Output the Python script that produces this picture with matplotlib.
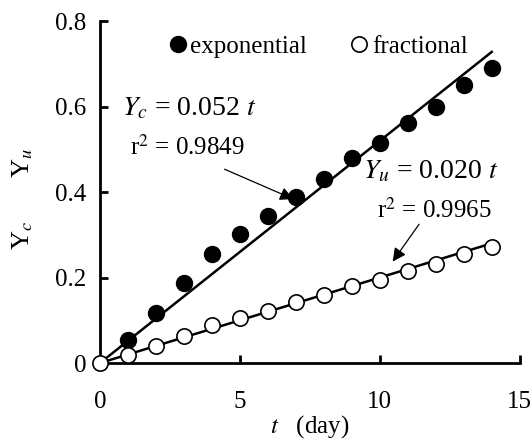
import matplotlib
matplotlib.use('Agg')
import matplotlib.pyplot as plt
import numpy as np

plt.rcParams['font.family'] = ['Liberation Serif', 'DejaVu Serif']
plt.rcParams['mathtext.fontset'] = 'stix'

# data
t_days = np.arange(0, 15)
y_exp = [0.0, 0.054, 0.117, 0.187, 0.255, 0.302, 0.344, 0.388, 0.43, 0.48,
         0.515, 0.561, 0.599, 0.65, 0.69]
y_frac = [0.0, 0.018, 0.040, 0.063, 0.088, 0.105, 0.122, 0.142, 0.160, 0.180,
          0.195, 0.215, 0.232, 0.255, 0.271]
slope_c = 0.052
slope_u = 0.020

fig = plt.figure(figsize=(5.32, 4.40), dpi=100)
ax = fig.add_axes([0.188, 0.175, 0.789, 0.777])

# fitted lines through origin
tfit = np.array([0, 14])
ax.plot(tfit, slope_c * tfit, color='black', lw=1.8, zorder=2)
ax.plot(tfit, slope_u * tfit, color='black', lw=1.8, zorder=2)

ax.plot(t_days[1:], y_exp[1:], 'o', color='black', ms=11.5, zorder=3,
        label='exponential', clip_on=False)
ax.plot(t_days, y_frac, 'o', mfc='white', mec='black', mew=1.2, ms=11,
        zorder=3, label='fractional', clip_on=False)

ax.set_xlim(0, 15)
ax.set_ylim(0, 0.8)
ax.set_xticks([0, 5, 10, 15])
ax.set_yticks([0, 0.2, 0.4, 0.6, 0.8])
ax.set_yticklabels(['0', '0.2', '0.4', '0.6', '0.8'])
for s in ['top', 'right']:
    ax.spines[s].set_visible(False)
for s in ['left', 'bottom']:
    ax.spines[s].set_linewidth(2)
ax.tick_params(direction='in', length=6, width=2, labelsize=18, pad=10)
ax.tick_params(axis='x', pad=20)

ax.set_xlabel(r'$t$   (day)', fontsize=18, labelpad=0)
# y label: two separate rotated symbols
fig.text(0.042, 0.466, r'Y$_c$', rotation=90, fontsize=19,
         ha='center', va='center')
fig.text(0.042, 0.630, r'Y$_u$', rotation=90, fontsize=19,
         ha='center', va='center')

leg = ax.legend(loc='center left', bbox_to_anchor=(0.155, 0.925), ncol=2,
                frameon=False, fontsize=18, handletextpad=0.0,
                columnspacing=1.6, markerscale=1.0, handlelength=1.0,
                borderpad=0, borderaxespad=0)

# equation annotations
ax.text(0.8, 0.596, r'$Y_c$ = 0.052 $t$', fontsize=20, va='center')
ax.text(1.07, 0.505, r'r$^2$ = 0.9849', fontsize=18, va='center')
ax.annotate('', xy=(7.0, 0.381), xytext=(4.36, 0.456),
            arrowprops=dict(arrowstyle='-|>', color='black', lw=0.9,
                            mutation_scale=20))
ax.text(9.4, 0.447, r'$Y_u$ = 0.020 $t$', fontsize=20, va='center')
ax.text(9.9, 0.358, r'r$^2$ = 0.9965', fontsize=18, va='center')
ax.annotate('', xy=(10.4, 0.232), xytext=(11.46, 0.33),
            arrowprops=dict(arrowstyle='-|>', color='black', lw=0.9,
                            mutation_scale=20))

fig.savefig('out.png', dpi=100)
